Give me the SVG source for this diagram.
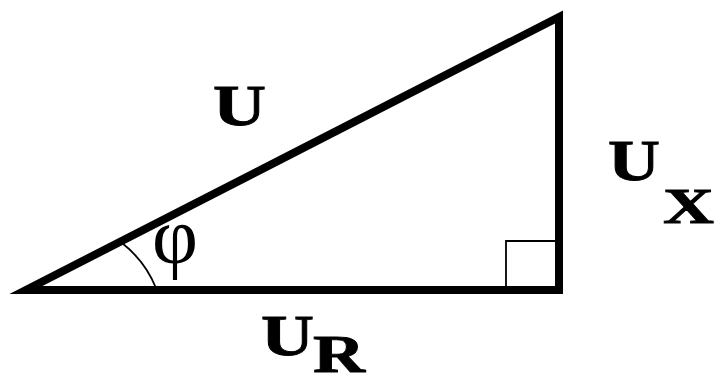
<svg xmlns="http://www.w3.org/2000/svg" width="716" height="379" viewBox="0 0 716 379">
<style>
.t{font-family:"Liberation Serif","Times New Roman",serif;font-weight:bold;fill:#000;stroke:#000;stroke-width:0.8}
.e{fill:none;stroke:#000}
</style>
<rect width="716" height="379" fill="#fff"/>
<g id="connectors">
<path id="triangle" class="e" d="M26,290 L559,290 L559,17 Z" stroke-width="8" stroke-linejoin="miter" stroke-miterlimit="10"/>
<path id="right-angle" class="e" d="M506,286 V241 H555" stroke-width="1.8"/>
<path id="angle-arc" class="e" d="M122,243 A110,110 0 0 1 156,288" stroke-width="1.8"/>
</g>
<g id="label-U"><text class="t" x="213" y="125" font-size="56" textLength="53" lengthAdjust="spacingAndGlyphs">U</text></g>
<g id="label-UX"><text class="t" x="608" y="180" font-size="56" textLength="52" lengthAdjust="spacingAndGlyphs">U</text><text class="t" x="663" y="223" font-size="50" textLength="51" lengthAdjust="spacingAndGlyphs">X</text></g>
<g id="label-UR"><text class="t" x="261" y="355" font-size="57" textLength="53" lengthAdjust="spacingAndGlyphs">U</text><text class="t" x="313" y="372" font-size="52" textLength="52" lengthAdjust="spacingAndGlyphs">R</text></g>
<g id="label-phi"><text x="152" y="263" font-family="Liberation Serif,serif" font-size="80" textLength="46" lengthAdjust="spacingAndGlyphs">φ</text></g>
</svg>
